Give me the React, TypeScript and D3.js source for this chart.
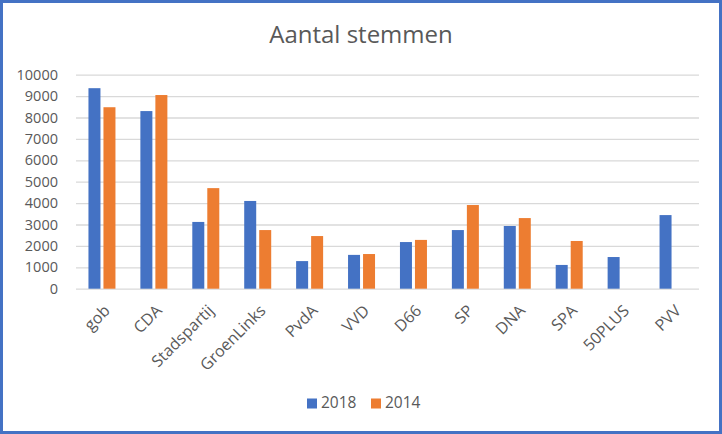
import { useEffect, useRef } from 'react'
import * as d3 from 'd3'

const W = 722, H = 434
const M = { top: 74.7, right: 23, bottom: 145.3, left: 76 }
const FONT = '"Open Sans", Lato, sans-serif'
const TEXT = '#595959'

const categories = ['gob', 'CDA', 'Stadspartij', 'GroenLinks', 'PvdA', 'VVD', 'D66', 'SP', 'DNA', 'SPA', '50PLUS', 'PVV']
const seriesNames = ['2018', '2014']
const colors = ['#4472C4', '#ED7D31']
const votes2018 = [9370, 8300, 3120, 4100, 1290, 1580, 2180, 2740, 2930, 1110, 1480, 3440]
const votes2014: (number | null)[] = [8480, 9050, 4700, 2740, 2460, 1620, 2280, 3910, 3300, 2230, null, null]
const yTicks = [0, 1000, 2000, 3000, 4000, 5000, 6000, 7000, 8000, 9000, 10000]

export default function App() {
  const svgRef = useRef<SVGSVGElement>(null)

  useEffect(() => {
    const svg = d3.select(svgRef.current!)
    svg.selectAll('*').remove()

    const iw = W - M.left - M.right
    const ih = H - M.top - M.bottom

    svg.append('rect').attr('x', 0).attr('y', 0).attr('width', W).attr('height', H).attr('fill', '#fff')
    svg.append('rect').attr('x', 1.5).attr('y', 1.5).attr('width', W - 3).attr('height', H - 3)
      .attr('fill', 'none').attr('stroke', '#4472C4').attr('stroke-width', 3)

    svg.append('text').attr('x', 361).attr('y', 43).attr('text-anchor', 'middle')
      .attr('font-family', FONT).attr('font-size', 24).attr('fill', TEXT).text('Aantal stemmen')

    const x0 = d3.scaleBand<string>().domain(categories).range([0, iw]).paddingInner(0.48).paddingOuter(0.24)
    const x1 = d3.scaleBand<string>().domain(seriesNames).range([0, x0.bandwidth()]).paddingInner(0.2)
    const y = d3.scaleLinear().domain([0, 10000]).range([ih, 0])

    const g = svg.append('g').attr('transform', `translate(${M.left},${M.top})`)

    // Grid
    g.append('g').call(d3.axisLeft(y).tickValues(yTicks).tickSize(-iw).tickPadding(18).tickFormat(d => `${d}`))
      .call(g => g.select('.domain').remove())
      .call(g => g.selectAll('.tick line').attr('stroke', '#d9d9d9').attr('stroke-width', 1.3))
      .call(g => g.selectAll('.tick text').attr('font-size', 14.5).attr('font-family', FONT).attr('fill', TEXT))

    // Bars
    const series = [votes2018, votes2014]
    series.forEach((vals, si) => {
      g.append('g').selectAll('rect')
        .data(categories.map((c, i) => ({ c, v: vals[i] })).filter(d => d.v != null))
        .join('rect')
        .attr('x', d => x0(d.c)! + x1(seriesNames[si])!)
        .attr('width', x1.bandwidth())
        .attr('y', d => y(d.v as number))
        .attr('height', d => ih - y(d.v as number))
        .attr('fill', colors[si])
    })

    // X labels
    g.append('g').selectAll('text').data(categories).join('text')
      .attr('transform', d => `translate(${x0(d)! + x0.bandwidth() / 2 + 5},${ih + 19}) rotate(-45)`)
      .attr('text-anchor', 'end').attr('dy', '0.35em')
      .attr('font-size', 16).attr('font-family', FONT).attr('fill', TEXT)
      .text(d => d)

    // Legend
    const lg = svg.append('g').attr('transform', 'translate(307,403)')
    seriesNames.forEach((name, i) => {
      const gx = i * 64
      lg.append('rect').attr('x', gx).attr('y', -4.5).attr('width', 10).attr('height', 10).attr('fill', colors[i])
      lg.append('text').attr('x', gx + 14).attr('y', 0).attr('dy', '0.35em')
        .attr('font-size', 15.5).attr('font-family', FONT).attr('fill', TEXT).text(name)
    })
  }, [])

  return (
    <div style={{ position: 'fixed', left: 0, top: 0 }}>
      <svg ref={svgRef} width={W} height={H} style={{ display: 'block' }} />
    </div>
  )
}
